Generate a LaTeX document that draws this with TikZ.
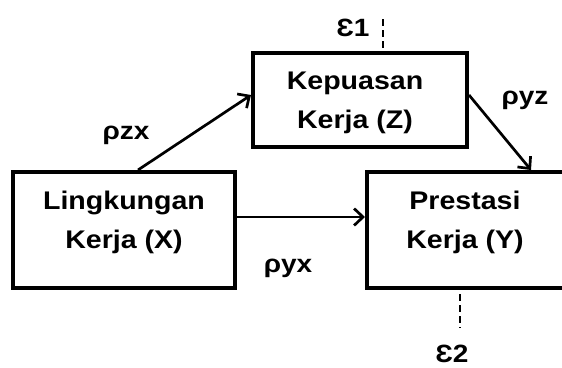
\documentclass[tikz,border=0pt]{standalone}
\usepackage{fontspec}
\setmainfont{Liberation Sans}[FakeStretch=1.12]
\usetikzlibrary{arrows.meta}
\tikzset{
  box/.style={draw, line width=4pt, rectangle, inner sep=0pt},
  txt/.style={font=\bfseries\fontsize{25.5}{39}\selectfont, align=center, inner sep=0pt},
  lbl/.style={font=\bfseries\fontsize{25}{28}\selectfont, inner sep=0pt},
  arr/.style={line width=2.7pt, -{Straight Barb[length=9pt,width=17pt]}},
  err/.style={line width=2.5pt, dash pattern=on 7pt off 4pt},
}
\begin{document}
\begin{tikzpicture}[x=1pt,y=-1pt]
\useasboundingbox (0,0) rectangle (562,367);
\clip (0,0) rectangle (562,367);
% boxes
\node[box, minimum width=222pt, minimum height=116pt] (X) at (124,230) {};
\node[box, minimum width=214pt, minimum height=94pt] (Z) at (360,100) {};
\node[box, minimum width=210pt, minimum height=116pt] (Y) at (472,230) {};
% texts
\node[txt] (Xt) at (124,222) {Lingkungan\\Kerja (X)};
\node[txt] (Zt) at (355,103) {Kepuasan\\Kerja (Z)};
\node[txt] (Yt) at (465,222) {Prestasi\\Kerja (Y)};
% arrows
\draw[arr] (X.north west) ++(127,0) coordinate (xs) -- (Z.west |- 0,95) coordinate (ze);
\draw[arr] (Z.east |- 0,95) -- (531,170) coordinate (ye);
\draw[arr] (X.east |- 0,217) -- (Y.west |- 0,217);
% labels
\node[lbl] (rzx) at (126,135) {ρzx};
\node[lbl] (ryz) at (525,100) {ρyz};
\node[lbl] (ryx) at (288,268) {ρyx};
% errors
\coordinate (e1top) at (383,19);
\draw[err] (e1top) -- (383,53);
\node[lbl] (e1) at (353,28) {Ɛ1};
\coordinate (e2bot) at (460,328);
\draw[err] (460,294) -- (e2bot);
\node[lbl] (e2) at (452,354) {Ɛ2};
\end{tikzpicture}
\end{document}
